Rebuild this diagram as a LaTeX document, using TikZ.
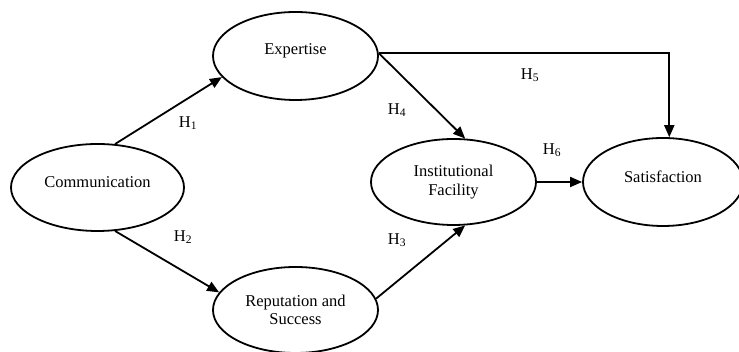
\documentclass[tikz,border=0pt]{standalone}
\usepackage{fontspec}
\setmainfont{Liberation Serif}
\usetikzlibrary{shapes.geometric,arrows.meta}
\newcommand{\liftup}[1]{\raisebox{5pt}[\height][\depth]{#1}}
\tikzset{
  construct/.style={ellipse, draw, line width=1.8pt, inner sep=0pt,
    minimum width=165pt, minimum height=87pt, align=center,
    font=\fontsize{16.5}{18.5}\selectfont},
  path/.style={line width=1.8pt, -{Triangle[length=12pt,width=10pt]}},
  hyp/.style={font=\fontsize{16.5}{18}\selectfont, inner sep=0pt}
}
\begin{document}
\begin{tikzpicture}[x=1pt,y=1pt]
\useasboundingbox (0,0) rectangle (739,352);
\node[construct, minimum width=173pt] (comm) at (97.5,164.5) {\liftup{Communication}};
\node[construct, minimum height=88pt] (exp) at (295.5,296) {\liftup{Expertise}};
\node[construct, minimum height=86pt] (rep) at (295.5,42) {Reputation and\\Success};
\node[construct, minimum height=86pt] (inst) at (453.5,170) {Institutional\\Facility};
\node[construct, minimum width=160pt, minimum height=88pt] (sat) at (663,170) {\liftup{Satisfaction}};

\draw[path] (comm.68) -- (exp.196);
\draw[path] (comm.292) -- (rep.167);
\draw[path] (rep.8) -- (inst.285);
\draw[path] (exp.2) -- (inst.75);
\draw[path] (exp.2) -| (sat.82);
\draw[path] (inst.east) -- (sat.west);

\node[hyp] (h1) at (188,229) {H\textsubscript{1}};
\node[hyp] (h2) at (183,115) {H\textsubscript{2}};
\node[hyp] (h3) at (397,112) {H\textsubscript{3}};
\node[hyp] (h4) at (397,242) {H\textsubscript{4}};
\node[hyp] (h5) at (530,277) {H\textsubscript{5}};
\node[hyp] (h6) at (552,202) {H\textsubscript{6}};
\end{tikzpicture}
\end{document}
